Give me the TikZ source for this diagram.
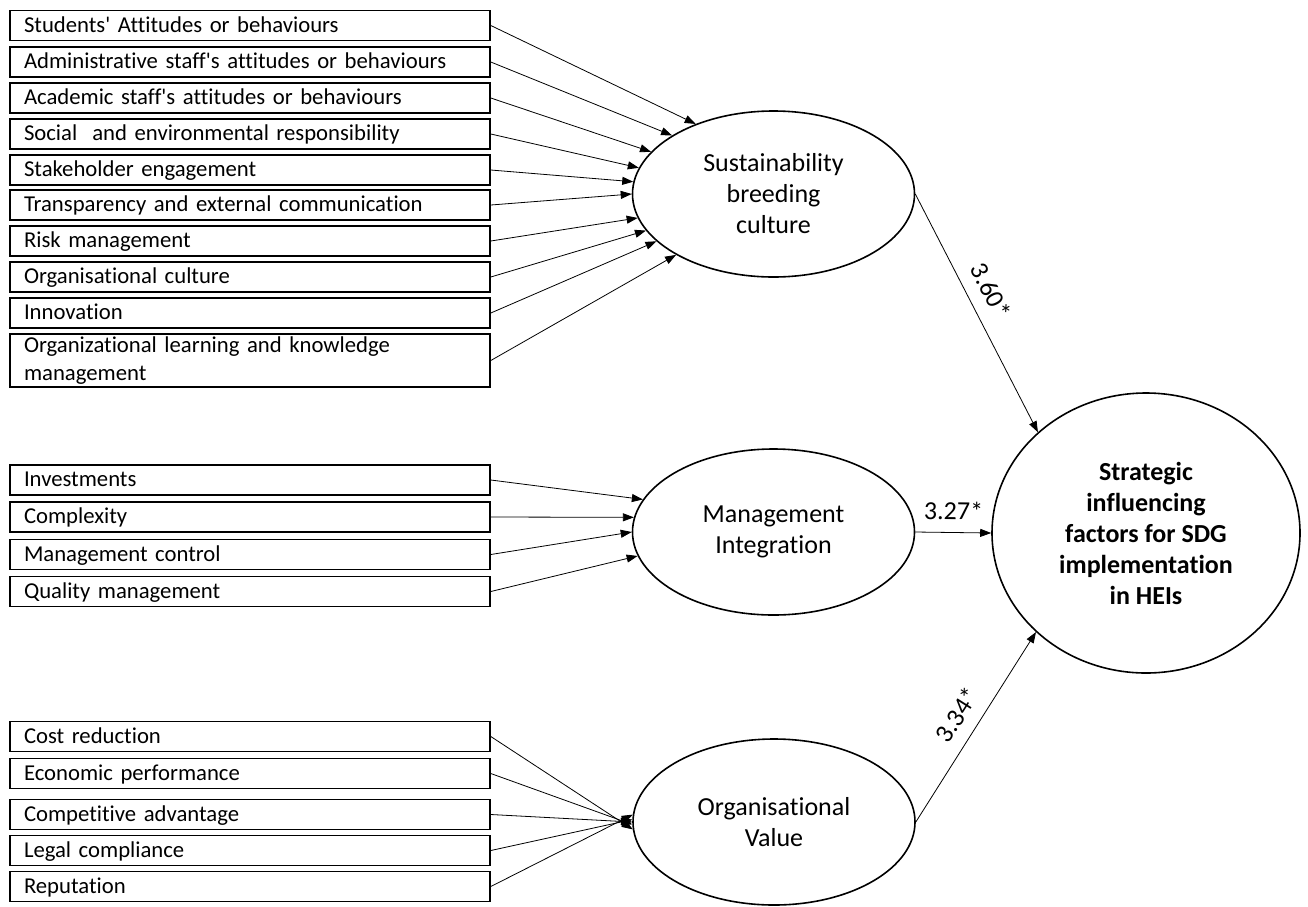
\documentclass[tikz,border=0pt]{standalone}
\usepackage{fontspec}
\setmainfont{Carlito}[Ligatures={NoCommon}]
\usetikzlibrary{
    shapes.geometric,
    positioning,
    arrows.meta
}
\tikzset{
    >={Triangle[length=11pt,width=8pt]},
    factor/.style={
        draw,
        rectangle,
        line width=1.6pt,
        minimum width=480pt,
        minimum height=30pt,
        text width=452pt,
        inner xsep=14pt,
        inner ysep=0pt,
        align=left,
        text height=17pt,
        text depth=4pt,
        font=\fontsize{22.7}{27.5}\selectfont
    },
    construct/.style={
        draw,
        ellipse,
        line width=1.6pt,
        minimum width=282pt,
        minimum height=166pt,
        inner sep=0pt,
        align=center,
        font=\fontsize{26}{31}\selectfont
    },
    outcome/.style={
        construct,
        minimum width=308pt,
        minimum height=280pt,
        font=\fontsize{26}{31}\selectfont\bfseries
    },
    link/.style={->, line width=0.8pt},
    coef/.style={
        sloped,
        above=13pt,
        inner sep=0pt,
        font=\fontsize{26}{31}\selectfont
    }
}

\begin{document}
\begin{tikzpicture}[
    x=1pt,
    y=-1pt
]

    \useasboundingbox (0,0) rectangle (1308,906);

    % Constructos
    \node[construct] (sbc) at (773.5,194) {Sustainability\\breeding\\culture};
    \node[construct] (mi)  at (773.5,532) {Management\\Integration};
    \node[construct] (ov)  at (774,822)   {Organisational\\Value};
    \node[outcome]   (hei) at (1146,533)  {Strategic\\influencing\\factors for SDG\\implementation\\in HEIs};

    % Factores de la cultura
    \node[factor] (stu)   at (250,25.5) {Students\textquotesingle{} Attitudes or behaviours};
    \node[factor] (adm)   at (250,62)   {Administrative staff\textquotesingle{}s attitudes or behaviours};
    \node[factor] (aca)   at (250,98)   {Academic staff\textquotesingle{}s attitudes or behaviours};
    \node[factor] (soc)   at (250,134)  {Social\ \ and environmental responsibility};
    \node[factor] (stake) at (250,170)  {Stakeholder engagement};
    \node[factor] (trans) at (250,205)  {Transparency and external communication};
    \node[factor] (risk)  at (250,241)  {Risk management};
    \node[factor] (orgc)  at (250,277)  {Organisational culture};
    \node[factor] (inno)  at (250,313)  {Innovation};
    \node[factor, minimum height=53pt, text height=, text depth=]
                  (learn) at (250,360.5) {Organizational learning and knowledge\\management};

    % Factores de la gestion
    \node[factor] (inv)   at (250,480)   {Investments};
    \node[factor] (comp)  at (250,517)   {Complexity};
    \node[factor] (ctrl)  at (250,554.5) {Management control};
    \node[factor] (qual)  at (250,591.5) {Quality management};

    % Factores del valor
    \node[factor] (cost)  at (250,736.5) {Cost reduction};
    \node[factor] (econ)  at (250,773.5) {Economic performance};
    \node[factor] (adv)   at (250,814.5) {Competitive advantage};
    \node[factor] (legal) at (250,850.5) {Legal compliance};
    \node[factor] (rep)   at (250,886.5) {Reputation};

    % Flechas hacia la cultura
    \path[link]
        (stu.east)   edge (sbc.138)
        (adm.east)   edge (sbc.150)
        (aca.east)   edge (sbc.161)
        (soc.east)   edge (sbc.169)
        (stake.east) edge (sbc.175)
        (trans.east) edge (sbc.180)
        (risk.east)  edge (sbc.190)
        (orgc.east)  edge (sbc.196)
        (inno.east)  edge (sbc.202)
        (learn.east) edge (sbc.212);

    % Flechas hacia la integracion
    \path[link]
        (inv.east)  edge (mi.166)
        (comp.east) edge (mi.174)
        (ctrl.east) edge (mi.180)
        (qual.east) edge (mi.190);

    % Flechas hacia el valor
    \path[link]
        (cost.east)  edge (ov.183)
        (econ.east)  edge (ov.181)
        (adv.east)   edge (ov.180)
        (legal.east) edge (ov.179)
        (rep.east)   edge (ov.177);

    % Coeficientes
    \path[link]
        (sbc.east)
            edge
                node[coef, pos=0.45] {3.60*} (hei.137)
        (mi.east)
            edge
                node[coef, above=12pt, pos=0.5] {3.27*} (hei.west)
        (ov.east)
            edge
                node[coef, pos=0.5] {3.34*} (hei.222);

\end{tikzpicture}
\end{document}
